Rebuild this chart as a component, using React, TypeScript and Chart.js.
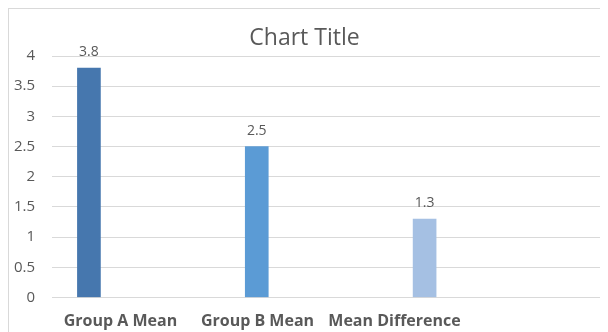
import { useEffect, useRef } from "react";
import { Chart, registerables } from "chart.js";

Chart.register(...registerables);

// Chart content
const categories = ["Group A Mean", "Group B Mean", "Mean Difference"];
const meanValues = [3.8, 2.5, 1.3];
const barColors = ["#4677ae", "#5b9bd5", "#a5c0e3"];
const yTickValues = [0, 0.5, 1, 1.5, 2, 2.5, 3, 3.5, 4];
const chartTitle = "Chart Title";

const FONT = "'Open Sans', 'Liberation Sans', sans-serif";
const TEXT_GRAY = "#595959";

// Writes each bar's value just above the bar
const valueLabels = {
  id: "valueLabels",
  afterDatasetsDraw(chart: any) {
    const { ctx } = chart;
    const meta = chart.getDatasetMeta(0);
    ctx.save();
    ctx.font = `14px ${FONT}`;
    ctx.fillStyle = TEXT_GRAY;
    ctx.textAlign = "center";
    ctx.textBaseline = "alphabetic";
    meta.data.forEach((bar: any, i: number) => {
      ctx.fillText(String(meanValues[i]), bar.x, bar.y - 12);
    });
    ctx.restore();
  },
};

export default function App() {
  const canvasRef = useRef<HTMLCanvasElement | null>(null);

  useEffect(() => {
    document.body.style.overflow = "hidden";
    const canvas = canvasRef.current;
    if (!canvas) return;

    const chart = new Chart(canvas, {
      type: "bar",
      data: {
        datasets: [
          {
            data: meanValues.map((v, i) => ({ x: i, y: v })),
            backgroundColor: barColors,
            barThickness: 23,
            borderWidth: 0,
          },
        ],
      },
      options: {
        animation: false,
        responsive: false,
        devicePixelRatio: 1,
        layout: { padding: { left: 0, right: 8, top: 0, bottom: 0 } },
        plugins: {
          legend: { display: false },
          tooltip: { enabled: false },
          title: {
            display: true,
            text: chartTitle,
            color: TEXT_GRAY,
            font: { family: FONT, size: 23, weight: "normal" },
            padding: { top: 16, bottom: 3.4 },
          },
        },
        scales: {
          x: {
            type: "linear",
            display: false,
            offset: false,
            grid: { offset: false },
            min: -0.22,
            max: 3.045,
          },
          labels: {
            type: "category",
            position: "bottom",
            labels: [...categories, ""],
            offset: true,
            grid: { display: false, drawTicks: false },
            border: { display: false },
            ticks: {
              color: TEXT_GRAY,
              font: { family: FONT, size: 16, weight: "bold" },
              padding: 14,
              maxRotation: 0,
              autoSkip: false,
            },
            afterFit: (scale: any) => {
              scale.height = 34.5;
            },
          },
          y: {
            min: 0,
            max: 4,
            afterBuildTicks: (scale: any) => {
              scale.ticks = yTickValues.map((value) => ({ value }));
            },
            ticks: {
              color: TEXT_GRAY,
              font: { family: FONT, size: 15 },
              padding: 17,
              callback: (value: any) => String(value),
            },
            grid: { color: "#d9d9d9", lineWidth: 1, drawTicks: false },
            border: { display: false },
            afterFit: (scale: any) => {
              scale.width = 43;
            },
          },
        },
      },
      plugins: [valueLabels],
    });

    return () => chart.destroy();
  }, []);

  return (
    <div
      style={{
        width: 599,
        height: 323,
        borderLeft: "1px solid #d9d9d9",
        borderTop: "1px solid #d9d9d9",
        background: "#ffffff",
      }}
    >
      <canvas ref={canvasRef} width={599} height={323} style={{ display: "block" }} />
    </div>
  );
}
